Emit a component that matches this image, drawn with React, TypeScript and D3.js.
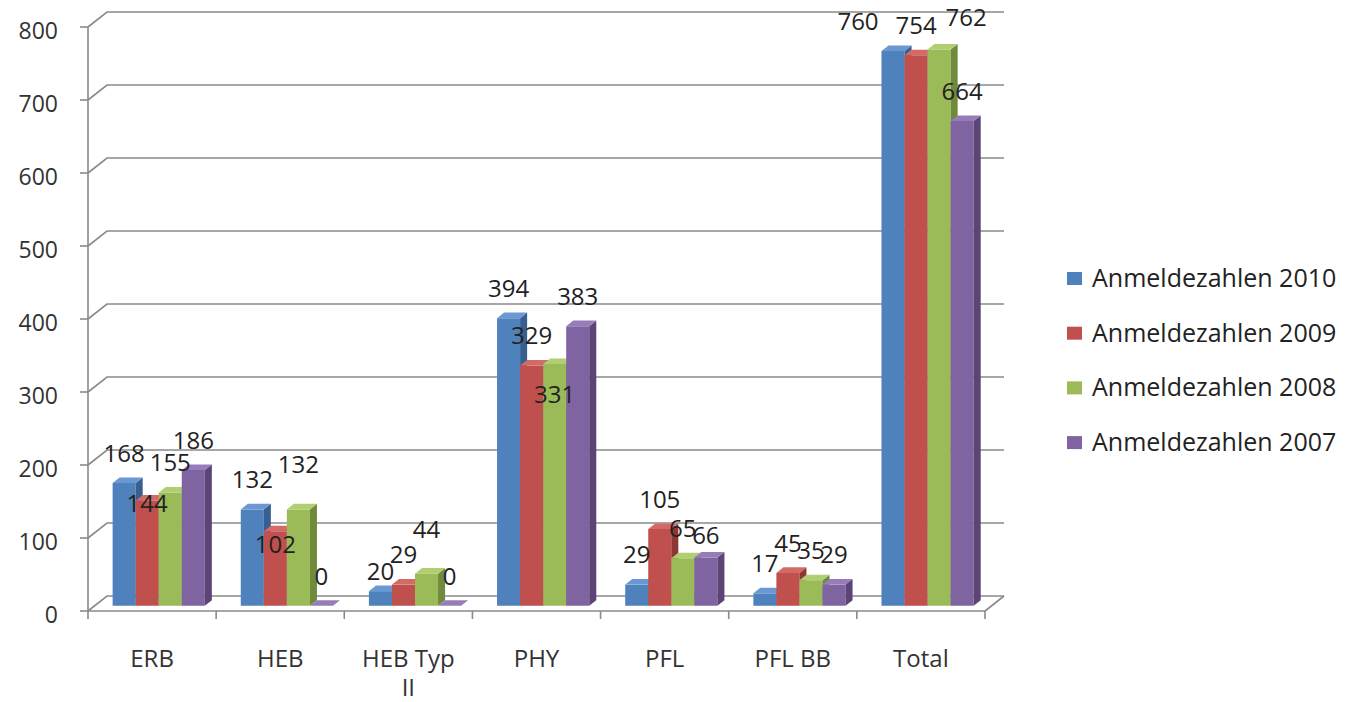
import React, { useEffect, useRef } from 'react';
import * as d3 from 'd3';

const categories = ["ERB", "HEB", "HEB Typ II", "PHY", "PFL", "PFL BB", "Total"];
const seriesNames = ["Anmeldezahlen 2010", "Anmeldezahlen 2009", "Anmeldezahlen 2008", "Anmeldezahlen 2007"];
const values2010 = [168, 132, 20, 394, 29, 17, 760];
const values2009 = [144, 102, 29, 329, 105, 45, 754];
const values2008 = [155, 132, 44, 331, 65, 35, 762];
const values2007 = [186, 0, 0, 383, 66, 29, 664];
const yTicks = [0, 100, 200, 300, 400, 500, 600, 700, 800];

// front / side / top shades per series
const palette = [
    { front: "#4F81BD", side: "#385F8F", top: "#6A98D2" },
    { front: "#C0504D", side: "#8E3836", top: "#D46A67" },
    { front: "#9BBB59", side: "#708A3C", top: "#B0CE72" },
    { front: "#8064A2", side: "#5B4577", top: "#977CBA" },
];

// Excel moved a few labels by hand, roughly these pixel shifts [dx, dy]
const labelNudge: Record<string, number[]> = {
    "ERB|1": [0, 33], "HEB|1": [0, 43], "HEB|2": [0, -15], "HEB Typ II|0": [0, 10],
    "HEB Typ II|2": [0, -14], "PHY|2": [0, 60], "PFL|3": [0, 8],
    "Total|0": [-35, 0], "Total|2": [27, -2],
};

const App = () => {
    const svgRef = useRef<SVGSVGElement>(null);
    const width = 1350;
    const height = 702;

    useEffect(() => {
        const svg = d3.select(svgRef.current);
        svg.selectAll("*").remove();

        const font = "'Open Sans', sans-serif";
        const series = [values2010, values2009, values2008, values2007];
        const DX = 19, DY = 15;       // depth of the plot box
        const zf = 0.35, zb = 0.72;   // bar depth inside the box
        const left = 88, right = 985;

        const y = d3.scaleLinear().domain([0, 800]).range([611, 27]);
        const x0 = d3.scaleBand().domain(categories).range([left, right]);
        const x1 = d3.scaleBand<number>().domain([0, 1, 2, 3])
            .range([0, x0.bandwidth()]).paddingInner(0).paddingOuter(0.78);

        const p = (x: number, yy: number, z: number) => [x + z * DX, yy - z * DY];
        const poly = (pts: number[][]) => pts.map(d => d.join(",")).join(" ");

        // back wall gridlines
        const grid = svg.append("g").attr("fill", "none").attr("stroke", "#8a8a8a").attr("stroke-width", 1.6);
        yTicks.forEach(t => {
            const yy = y(t);
            grid.append("polyline")
                .attr("points", poly([[left, yy], p(left, yy, 1), p(right, yy, 1)]));
        });

        // front axes
        const axis = svg.append("g").attr("stroke", "#8a8a8a").attr("stroke-width", 1.6).attr("fill", "none");
        axis.append("line").attr("x1", left).attr("x2", left).attr("y1", y(800)).attr("y2", y(0));
        axis.append("line").attr("x1", left).attr("x2", right).attr("y1", y(0)).attr("y2", y(0));
        axis.append("polyline").attr("points", poly([[right, y(0)], p(right, y(0), 1)]));
        yTicks.forEach(t => {
            axis.append("line").attr("x1", left - 8).attr("x2", left).attr("y1", y(t)).attr("y2", y(t));
        });
        [...categories.map(c => x0(c)!), right].forEach(xx => {
            axis.append("line").attr("x1", xx).attr("x2", xx).attr("y1", y(0)).attr("y2", y(0) + 8);
        });

        svg.append("g").selectAll("text").data(yTicks).join("text")
            .attr("x", 58).attr("y", d => y(d) + 12)
            .attr("text-anchor", "end").attr("font-family", font).attr("font-size", 23)
            .attr("fill", "#333").text(d => d);

        // bars
        const bars = svg.append("g");
        categories.forEach((cat, ci) => {
            series.forEach((vals, si) => {
                const xl = x0(cat)! + x1(si)!;
                const xr = xl + x1.bandwidth();
                const yt = y(vals[ci]);
                const yb = y(0);
                const c = palette[si];
                bars.append("polygon").attr("fill", c.front)
                    .attr("points", poly([p(xl, yt, zf), p(xr, yt, zf), p(xr, yb, zf), p(xl, yb, zf)]));
                bars.append("polygon").attr("fill", c.side)
                    .attr("points", poly([p(xr, yt, zf), p(xr, yt, zb), p(xr, yb, zb), p(xr, yb, zf)]));
                bars.append("polygon").attr("fill", c.top)
                    .attr("points", poly([p(xl, yt, zf), p(xr, yt, zf), p(xr, yt, zb), p(xl, yt, zb)]));
            });
        });

        // data labels
        const labels = svg.append("g").attr("font-family", font).attr("font-size", 24)
            .attr("fill", "#222").attr("text-anchor", "middle");
        categories.forEach((cat, ci) => {
            series.forEach((vals, si) => {
                const xc = x0(cat)! + x1(si)! + x1.bandwidth() / 2 + zf * DX;
                const [ndx, ndy] = labelNudge[`${cat}|${si}`] || [0, 0];
                labels.append("text").attr("x", xc + ndx).attr("y", y(vals[ci]) - 26.5 + ndy).text(vals[ci]);
            });
        });

        // category labels, wrapped like Excel
        const catG = svg.append("g").attr("font-family", font).attr("font-size", 24)
            .attr("fill", "#333").attr("text-anchor", "middle");
        categories.forEach(cat => {
            const cx = x0(cat)! + x0.bandwidth() / 2;
            const words = cat.split(" ");
            const lines: string[] = [];
            let line = "";
            words.forEach(w => {
                const test = line ? line + " " + w : w;
                const probe = catG.append("text").text(test);
                const wdt = (probe.node() as SVGTextElement).getComputedTextLength();
                probe.remove();
                if (wdt > 100 && line) { lines.push(line); line = w; } else line = test;
            });
            lines.push(line);
            lines.forEach((l, i) => {
                catG.append("text").attr("x", cx).attr("y", 667 + i * 29).text(l);
            });
        });

        // legend
        const legend = svg.append("g").attr("font-family", font).attr("font-size", 25).attr("fill", "#222");
        seriesNames.forEach((name, i) => {
            const base = 287 + i * 54.7;
            legend.append("rect").attr("x", 1067).attr("y", base - 15).attr("width", 15).attr("height", 13)
                .attr("fill", palette[i].front);
            legend.append("text").attr("x", 1092).attr("y", base).text(name);
        });
    }, []);

    return (
        <svg ref={svgRef} width={width} height={height}
            style={{ position: "absolute", left: 0, top: 0, background: "#fff" }}></svg>
    );
};

export default App;
